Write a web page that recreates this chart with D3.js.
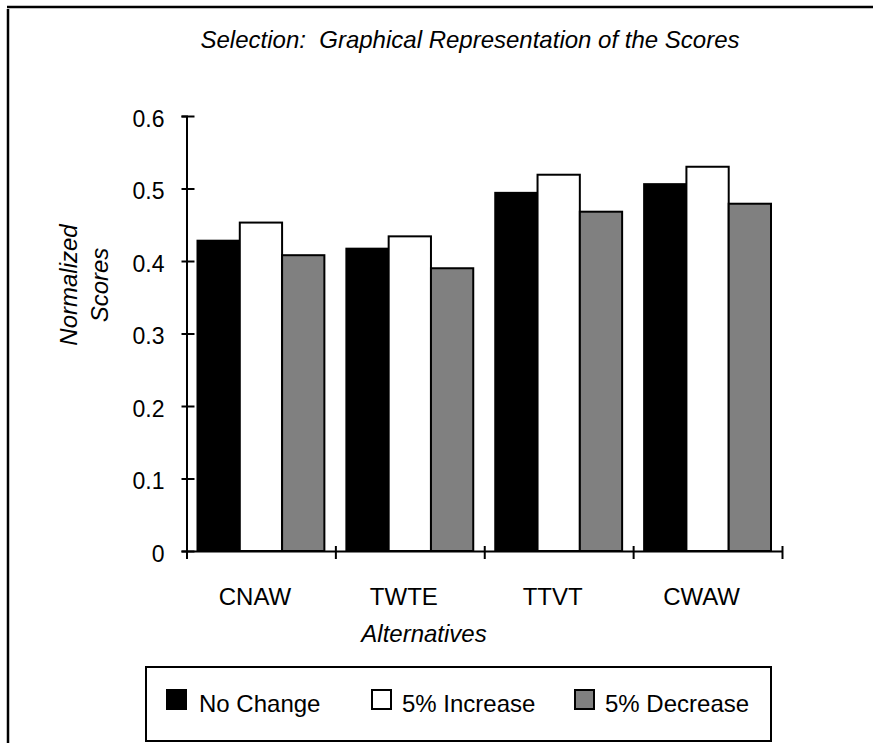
<!DOCTYPE html>
<html>
<head>
<meta charset="utf-8">
<title>Selection scores</title>
<script src="https://cdnjs.cloudflare.com/ajax/libs/d3/7.8.5/d3.min.js"></script>
<style>
  body { margin: 0; background: #fff; }
  svg { display: block; font-family: "Liberation Sans", Arial, sans-serif; }
</style>
</head>
<body>
<div id="chart"></div>
<script>
// data
var categories = ["CNAW", "TWTE", "TTVT", "CWAW"];
var seriesNames = ["No Change", "5% Increase", "5% Decrease"];
var noChange   = [0.428, 0.417, 0.494, 0.506];
var increase   = [0.453, 0.434, 0.519, 0.530];
var decrease   = [0.408, 0.390, 0.468, 0.479];
var yTicks = [0, 0.1, 0.2, 0.3, 0.4, 0.5, 0.6];
var fills = ["#000000", "#ffffff", "#808080"];

var W = 873, H = 743;
var plotLeft = 186.5, plotRight = 782, plotTop = 116, plotBottom = 551;

var svg = d3.select("#chart").append("svg")
    .attr("width", W)
    .attr("height", H);

// frame lines along top and left edge
svg.append("line").attr("x1", 7).attr("x2", W).attr("y1", 7).attr("y2", 7)
   .attr("stroke", "#000").attr("stroke-width", 2.5);
svg.append("line").attr("x1", 8).attr("x2", 8).attr("y1", 9).attr("y2", H)
   .attr("stroke", "#000").attr("stroke-width", 2.5);

svg.append("text")
   .attr("x", 470).attr("y", 48)
   .attr("text-anchor", "middle")
   .attr("font-size", "24px")
   .attr("font-style", "italic")
   .text("Selection:\u00a0\u00a0Graphical Representation of the Scores");

var x0 = d3.scaleBand().domain(categories).range([plotLeft, plotRight]).paddingInner(0).paddingOuter(0);
var x1 = d3.scaleBand().domain(seriesNames).range([11, x0.bandwidth() - 11]);
var y = d3.scaleLinear().domain([0, 0.6]).range([plotBottom, plotTop]);

var rows = categories.map(function (c, i) {
    return { cat: c, vals: [noChange[i], increase[i], decrease[i]] };
});

var groups = svg.selectAll("g.grp")
    .data(rows)
    .enter().append("g")
    .attr("class", "grp")
    .attr("transform", function (d) { return "translate(" + x0(d.cat) + ",0)"; });

groups.selectAll("rect")
    .data(function (d) { return d.vals.map(function (v, k) { return { s: seriesNames[k], v: v, k: k }; }); })
    .enter().append("rect")
    .attr("x", function (d) { return x1(d.s); })
    .attr("width", x1.bandwidth())
    .attr("y", function (d) { return y(d.v); })
    .attr("height", function (d) { return plotBottom - y(d.v); })
    .attr("fill", function (d) { return fills[d.k]; })
    .attr("stroke", "#000")
    .attr("stroke-width", 2);

// y axis
var yAxis = svg.append("g")
    .attr("transform", "translate(" + plotLeft + ",0)")
    .call(d3.axisLeft(y).tickValues(yTicks).tickFormat(d3.format("~g")).tickSize(5).tickPadding(17));
yAxis.select(".domain").attr("stroke-width", 2);
yAxis.selectAll(".tick line").attr("x1", 8).attr("x2", -5).attr("stroke-width", 2);
yAxis.selectAll(".tick text")
    .attr("font-size", "23px")
    .attr("font-family", "Liberation Sans, Arial, sans-serif")
    .attr("fill", "#000")
    .attr("dy", "0.45em");

// x axis with ticks on the band boundaries
var xb = d3.scaleLinear().domain([0, categories.length]).range([plotLeft, plotRight]);
var xAxis = svg.append("g")
    .attr("transform", "translate(0," + plotBottom + ")")
    .call(d3.axisBottom(xb).ticks(categories.length).tickFormat("").tickSizeOuter(0));
xAxis.select(".domain").attr("stroke-width", 2);
xAxis.selectAll(".tick line").attr("y1", -5).attr("y2", 8).attr("stroke-width", 2);

svg.selectAll("text.cat")
    .data(categories)
    .enter().append("text")
    .attr("class", "cat")
    .attr("x", function (d) { return x0(d) + x0.bandwidth() / 2 - 6; })
    .attr("y", 605)
    .attr("text-anchor", "middle")
    .attr("font-size", "24px")
    .text(function (d) { return d; });

svg.append("text")
   .attr("x", 424).attr("y", 642)
   .attr("text-anchor", "middle")
   .attr("font-size", "24px")
   .attr("font-style", "italic")
   .text("Alternatives");

svg.append("text")
   .attr("transform", "translate(77,285) rotate(-90)")
   .attr("text-anchor", "middle")
   .attr("font-size", "24px")
   .attr("font-style", "italic")
   .text("Normalized");
svg.append("text")
   .attr("transform", "translate(108,285) rotate(-90)")
   .attr("text-anchor", "middle")
   .attr("font-size", "24px")
   .attr("font-style", "italic")
   .text("Scores");

// legend
var legend = svg.append("g");
legend.append("rect")
   .attr("x", 146).attr("y", 667).attr("width", 625).attr("height", 74)
   .attr("fill", "#fff").attr("stroke", "#000").attr("stroke-width", 2);

var legX = [167, 372, 575];
var items = legend.selectAll("g.item")
    .data(seriesNames)
    .enter().append("g")
    .attr("class", "item")
    .attr("transform", function (d, i) { return "translate(" + legX[i] + ",0)"; });
items.append("rect")
    .attr("x", 0).attr("y", 690).attr("width", 19).attr("height", 19)
    .attr("fill", function (d, i) { return fills[i]; })
    .attr("stroke", "#000").attr("stroke-width", 2);
items.append("text")
    .attr("x", function (d, i) { return i === 0 ? 32 : 30; })
    .attr("y", 712)
    .attr("font-size", "24px")
    .text(function (d) { return d; });
</script>
</body>
</html>
